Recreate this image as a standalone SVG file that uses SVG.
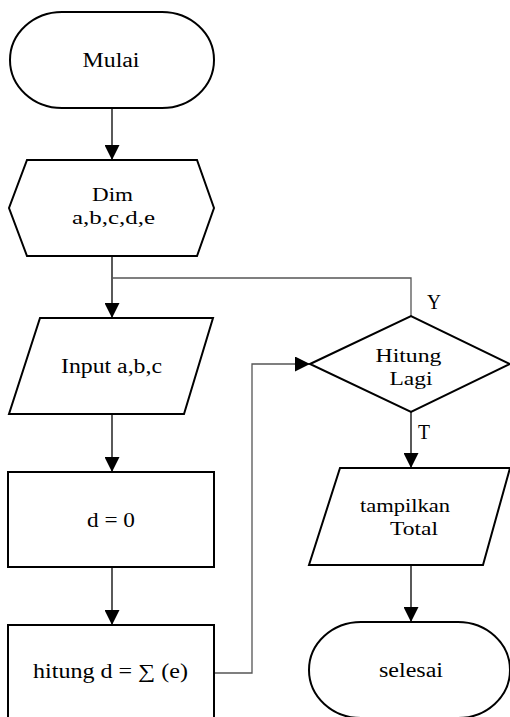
<svg xmlns="http://www.w3.org/2000/svg" width="510" height="717" viewBox="0 0 510 717">
<defs>
<style>
.shape{fill:#fff;stroke:#000;stroke-width:2}
.conn{fill:none;stroke:#000;stroke-width:1.3}
.loop{fill:none;stroke:#555;stroke-width:1.3}
text{font-family:"Liberation Serif","Times New Roman",serif;font-size:20px;fill:#000;text-anchor:middle}
.ml{font-size:19px}
</style>
<marker id="arr" viewBox="0 0 10 10" refX="10" refY="5" markerWidth="17" markerHeight="15" markerUnits="userSpaceOnUse" orient="auto">
<path d="M0,0 L10,5 L0,10 z" fill="#000"/>
</marker>
</defs>
<rect width="510" height="717" fill="#fff"/>
<g id="connectors">
<line class="conn" x1="112" y1="108" x2="112" y2="160" marker-end="url(#arr)"/>
<line class="conn" x1="112" y1="256" x2="112" y2="318" marker-end="url(#arr)"/>
<polyline class="loop" points="411,316 411,278 112,278"/>
<line class="conn" x1="112" y1="414" x2="112" y2="472" marker-end="url(#arr)"/>
<line class="conn" x1="112" y1="567" x2="112" y2="625" marker-end="url(#arr)"/>
<polyline class="loop" points="214,673 252,673 252,364 310,364" marker-end="url(#arr)"/>
<line class="conn" x1="411" y1="412" x2="411" y2="468" marker-end="url(#arr)"/>
<line class="conn" x1="411" y1="565" x2="411" y2="622" marker-end="url(#arr)"/>
<text x="434" y="309" textLength="14" lengthAdjust="spacingAndGlyphs">Y</text>
<text x="424" y="439" textLength="12" lengthAdjust="spacingAndGlyphs">T</text>
</g>
<g id="mulai">
<rect class="shape" x="10" y="12" width="204" height="96" rx="52" ry="48"/>
<text x="111" y="67" textLength="57" lengthAdjust="spacingAndGlyphs">Mulai</text>
</g>
<g id="dim">
<polygon class="shape" points="27,160 197,160 214,208 197,256 27,256 9,208"/>
<text class="ml" x="112.5" y="201" textLength="41" lengthAdjust="spacingAndGlyphs">Dim</text>
<text class="ml" x="113.5" y="224" textLength="83" lengthAdjust="spacingAndGlyphs">a,b,c,d,e</text>
</g>
<g id="input">
<polygon class="shape" points="40,318 213,318 184,414 9,414"/>
<text x="111.5" y="373" textLength="101" lengthAdjust="spacingAndGlyphs">Input a,b,c</text>
</g>
<g id="d0">
<rect class="shape" x="8" y="472" width="206" height="95"/>
<text x="111" y="527" textLength="48" lengthAdjust="spacingAndGlyphs">d = 0</text>
</g>
<g id="hitung">
<rect class="shape" x="8" y="625" width="206" height="96"/>
<text x="110.5" y="678" textLength="155" lengthAdjust="spacingAndGlyphs">hitung d = ∑ (e)</text>
</g>
<g id="decision">
<polygon class="shape" points="310,364 411,316 510,364 411,412"/>
<text class="ml" x="408.5" y="362" textLength="66" lengthAdjust="spacingAndGlyphs">Hitung</text>
<text class="ml" x="411" y="385" textLength="43" lengthAdjust="spacingAndGlyphs">Lagi</text>
</g>
<g id="tampilkan">
<polygon class="shape" points="340,468 510,468 483,565 309,565"/>
<text class="ml" x="405" y="512" textLength="90" lengthAdjust="spacingAndGlyphs">tampilkan</text>
<text class="ml" x="414" y="535" textLength="48" lengthAdjust="spacingAndGlyphs">Total</text>
</g>
<g id="selesai">
<rect class="shape" x="309" y="622" width="201" height="96" rx="52" ry="48"/>
<text x="411" y="677" textLength="64" lengthAdjust="spacingAndGlyphs">selesai</text>
</g>
</svg>
